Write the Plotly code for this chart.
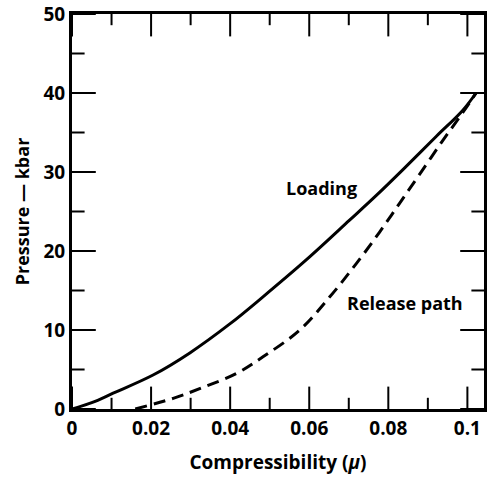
import plotly.graph_objects as go

# Loading curve (compressibility, pressure in kbar)
load_mu = [0.0, 0.005, 0.0104, 0.0205, 0.0298, 0.04, 0.0483, 0.0593, 0.0702, 0.0769, 0.0837, 0.0921, 0.0988, 0.1022]
load_p = [0.0, 0.8, 2.0, 4.3, 7.1, 10.8, 14.2, 18.9, 23.9, 27.0, 30.3, 34.5, 37.8, 40.0]

# Release path
rel_mu = [0.016, 0.0256, 0.0332, 0.0416, 0.0483, 0.0576, 0.0652, 0.0719, 0.0778, 0.0828, 0.0879, 0.0938, 0.0988, 0.1022]
rel_p = [0.0, 1.35, 2.75, 4.5, 6.6, 10.0, 14.2, 18.4, 22.4, 26.0, 29.7, 34.0, 37.5, 40.0]

# Axis ticks
x_major = [0, 0.02, 0.04, 0.06, 0.08, 0.1]
x_minor = [0.01, 0.03, 0.05, 0.07, 0.09]
y_major = [0, 10, 20, 30, 40, 50]
y_minor = [5, 15, 25, 35, 45]
X_RANGE = [0, 0.1042]
Y_RANGE = [0, 50]

FONT = "Open Sans"

fig = go.Figure()
fig.add_trace(go.Scatter(x=load_mu, y=load_p, mode="lines",
                         line=dict(color="black", width=3, shape="spline", smoothing=1.0),
                         showlegend=False, hoverinfo="skip"))
fig.add_trace(go.Scatter(x=rel_mu, y=rel_p, mode="lines",
                         line=dict(color="black", width=3, dash="12px,7px", shape="spline", smoothing=1.0),
                         showlegend=False, hoverinfo="skip"))


def tick_marks(xs, ys, symbol, size):
    # Line markers centred on the frame; the half outside the plot area is clipped,
    # leaving an inward-pointing tick of length size / 2.
    fig.add_trace(go.Scatter(x=xs, y=ys, mode="markers", cliponaxis=True,
                             marker=dict(symbol=symbol, size=size, color="black",
                                         line=dict(color="black", width=2)),
                             showlegend=False, hoverinfo="skip"))


for y_edge in Y_RANGE:
    tick_marks(x_major, [y_edge] * len(x_major), "line-ns", 32)
    tick_marks(x_minor, [y_edge] * len(x_minor), "line-ns", 16)
for x_edge in X_RANGE:
    tick_marks([x_edge] * len(y_major), y_major, "line-ew", 34)
    tick_marks([x_edge] * len(y_minor), y_minor, "line-ew", 18)

fig.add_annotation(x=0.0631, y=28, text="<b>Loading</b>", showarrow=False,
                   font=dict(family=FONT, size=18, color="black"))
fig.add_annotation(x=0.0841, y=13.4, text="<b>Release path</b>", showarrow=False,
                   font=dict(family=FONT, size=18, color="black"))

fig.update_xaxes(range=X_RANGE, tickmode="array", tickvals=x_major, ticks="",
                 showline=True, linecolor="black", linewidth=3, mirror=True,
                 showgrid=False, zeroline=False,
                 tickfont=dict(family=FONT, size=19, color="black", weight="bold"),
                 title=dict(text="<b>Compressibility (<i>μ</i>)</b>", standoff=16,
                            font=dict(family=FONT, size=19, color="black")))
fig.update_yaxes(range=Y_RANGE, tickmode="array", tickvals=y_major, ticks="",
                 showline=True, linecolor="black", linewidth=3, mirror=True,
                 showgrid=False, zeroline=False,
                 tickfont=dict(family=FONT, size=19, color="black", weight="bold"),
                 title=dict(text="<b>Pressure — kbar</b>", standoff=10,
                            font=dict(family=FONT, size=18, color="black")))

fig.update_layout(template="none", width=490, height=477,
                  margin=dict(l=72, r=6, t=14, b=68),
                  paper_bgcolor="white", plot_bgcolor="white")

fig.write_html("out.html")
